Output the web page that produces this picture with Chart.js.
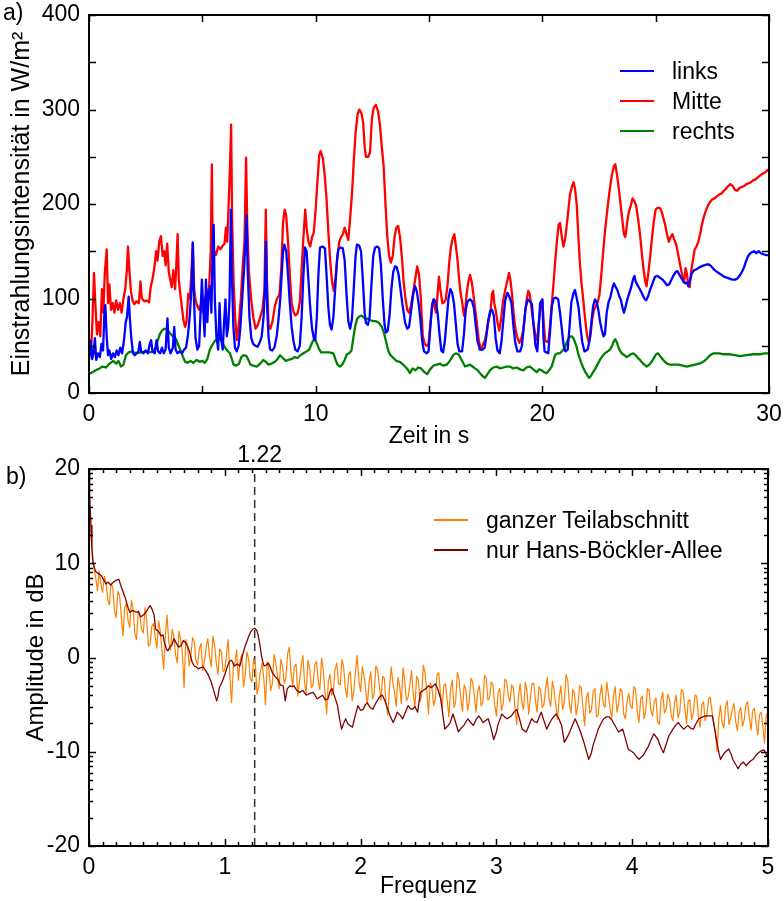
<!DOCTYPE html>
<html>
<head>
<meta charset="utf-8">
<script src="https://cdn.jsdelivr.net/npm/chart.js@4"></script>
<style>
  body { margin: 0; background: #fff; font-family: "Liberation Sans", Arial, sans-serif; }
  #wrap { position: relative; width: 784px; height: 901px; overflow: hidden; }
  canvas { position: absolute; left: 0; }
  .tag { position: absolute; font-size: 23px; line-height: 1; color: #000; }
  .legend { position: absolute; font-size: 23px; color: #000; }
  .legend .row { display: flex; align-items: center; height: 30px; white-space: nowrap; }
  .legend .row span { display: block; width: 34px; height: 1.6px; margin-right: 18px; }
</style>
</head>
<body>
<div id="wrap">
  <canvas id="chartA" width="784" height="450" style="top:0"></canvas>
  <canvas id="chartB" width="784" height="461" style="top:440px"></canvas>
  <div class="tag" style="left:3px;top:1px">a)</div>
  <div class="tag" style="left:6px;top:465px">b)</div>
  <div class="legend" style="left:620px;top:56px">
    <div class="row"><span style="background:#0000ff"></span>links</div>
    <div class="row"><span style="background:#ff0000"></span>Mitte</div>
    <div class="row"><span style="background:#008000"></span>rechts</div>
  </div>
  <div class="legend" style="left:434px;top:505px">
    <div class="row"><span style="background:#ff8000"></span>ganzer Teilabschnitt</div>
    <div class="row"><span style="background:#800000"></span>nur Hans-Böckler-Allee</div>
  </div>
</div>
<script>
// Einstrahlungsintensität [Zeit s, W/m²]
const links = [
  [0.0,35],[0.08,55],[0.14,36],[0.2,42],[0.26,58],[0.32,35],[0.4,42],[0.48,38],[0.55,52],[0.62,45],
  [0.68,85],[0.72,93],[0.78,60],[0.84,40],[0.9,45],[0.98,36],[1.06,42],[1.14,38],[1.22,45],[1.3,40],
  [1.38,48],[1.46,42],[1.54,55],[1.62,75],[1.68,81],[1.75,102],[1.8,80],[1.86,60],[1.94,42],[2.02,40],
  [2.1,42],[2.18,44],[2.24,54],[2.3,44],[2.4,42],[2.5,45],[2.6,42],[2.68,52],[2.74,56],[2.8,44],
  [2.9,42],[2.98,56],[3.05,44],[3.14,42],[3.22,48],[3.3,42],[3.38,46],[3.46,79],[3.52,48],[3.6,42],
  [3.7,48],[3.76,70],[3.82,46],[3.9,42],[4.0,44],[4.1,42],[4.2,46],[4.28,48],[4.36,60],[4.44,80],
  [4.52,110],[4.58,159],[4.63,100],[4.7,58],[4.78,46],[4.86,50],[4.92,85],[4.98,120],[5.04,90],[5.1,60],
  [5.16,120],[5.22,75],[5.28,106],[5.35,113],[5.4,85],[5.46,160],[5.5,178],[5.55,100],[5.62,60],[5.7,46],
  [5.76,95],[5.82,60],[5.9,46],[5.96,75],[6.02,99],[6.08,60],[6.14,70],[6.2,99],[6.26,194],[6.31,120],
  [6.37,70],[6.44,48],[6.52,44],[6.6,50],[6.68,70],[6.76,100],[6.84,130],[6.9,160],[6.95,188],[7.0,130],
  [7.08,80],[7.16,58],[7.24,52],[7.34,50],[7.44,49],[7.54,54],[7.62,60],[7.7,80],[7.76,110],[7.81,160],
  [7.86,90],[7.92,60],[7.99,46],[8.08,45],[8.18,48],[8.28,60],[8.36,78],[8.44,100],[8.5,125],[8.56,150],
  [8.62,157],[8.7,150],[8.78,125],[8.86,95],[8.94,70],[9.02,55],[9.1,46],[9.2,44],[9.3,50],[9.38,80],
  [9.46,125],[9.53,154],[9.6,150],[9.68,120],[9.76,90],[9.84,68],[9.92,58],[9.98,56],[10.05,80],[10.12,125],
  [10.19,154],[10.3,155],[10.41,153],[10.48,125],[10.56,90],[10.63,72],[10.7,67],[10.78,80],[10.86,110],[10.94,140],
  [11.0,152],[11.1,154],[11.2,153],[11.28,140],[11.36,105],[11.44,76],[11.52,68],[11.6,78],[11.68,110],[11.76,145],
  [11.82,157],[11.92,156],[12.0,150],[12.08,120],[12.16,85],[12.22,74],[12.3,72],[12.38,80],[12.46,115],[12.54,145],
  [12.62,154],[12.72,155],[12.8,153],[12.88,135],[12.96,100],[13.04,72],[13.1,64],[13.18,66],[13.26,82],[13.34,110],
  [13.42,128],[13.5,134],[13.58,133],[13.66,125],[13.74,110],[13.84,92],[13.94,75],[14.04,68],[14.12,70],[14.2,85],
  [14.3,104],[14.38,113],[14.46,108],[14.54,95],[14.62,78],[14.7,55],[14.78,44],[14.9,42],[14.98,44],[15.06,70],
  [15.14,94],[15.22,99],[15.3,96],[15.38,85],[15.46,63],[15.54,45],[15.62,43],[15.7,55],[15.78,78],[15.86,100],
  [15.94,110],[16.02,106],[16.1,95],[16.18,74],[16.26,52],[16.34,44],[16.46,44],[16.54,62],[16.62,88],[16.7,97],
  [16.81,99],[16.9,97],[16.98,90],[17.06,72],[17.14,55],[17.24,46],[17.36,46],[17.46,48],[17.54,62],[17.62,77],
  [17.7,87],[17.78,88],[17.86,82],[17.94,58],[18.02,45],[18.12,42],[18.2,55],[18.28,77],[18.36,98],[18.46,106],
  [18.56,101],[18.64,95],[18.72,72],[18.8,54],[18.9,44],[19.02,44],[19.1,50],[19.18,70],[19.26,90],[19.36,99],
  [19.46,97],[19.54,94],[19.62,70],[19.7,50],[19.78,44],[19.84,70],[19.9,95],[20.0,99],[20.05,60],[20.1,44],
  [20.26,42],[20.34,65],[20.42,92],[20.5,100],[20.6,101],[20.7,99],[20.78,85],[20.86,68],[20.94,50],[21.02,44],
  [21.12,46],[21.2,70],[21.28,96],[21.38,106],[21.44,109],[21.52,100],[21.6,90],[21.68,70],[21.76,54],[21.86,44],
  [22.0,46],[22.08,55],[22.16,74],[22.24,92],[22.32,99],[22.4,96],[22.47,88],[22.55,75],[22.62,67],[22.7,60],
  [22.76,62],[22.84,85],[22.92,96],[23.01,102],[23.1,112],[23.16,116],[23.24,112],[23.31,109],[23.4,102],[23.46,99],
  [23.54,90],[23.6,85],[23.68,92],[23.75,99],[23.84,106],[23.92,112],[24.0,120],[24.06,124],[24.12,118],[24.2,114],
  [24.3,110],[24.4,105],[24.5,100],[24.58,98],[24.66,102],[24.75,109],[24.86,116],[24.97,123],[25.08,124],[25.19,122],
  [25.3,120],[25.41,117],[25.5,114],[25.6,115],[25.7,120],[25.78,124],[25.88,128],[25.96,129],[26.05,125],[26.15,121],
  [26.22,118],[26.3,116],[26.38,117],[26.44,113],[26.52,120],[26.6,127],[26.7,130],[26.81,131],[26.92,133],[27.02,134],
  [27.12,135],[27.24,136],[27.35,136],[27.46,134],[27.56,131],[27.66,129],[27.78,127],[27.9,125],[28.02,123],[28.14,122],
  [28.26,121],[28.38,120],[28.5,120],[28.6,121],[28.7,124],[28.8,128],[28.9,133],[28.98,139],[29.06,144],[29.14,147],
  [29.24,149],[29.34,150],[29.44,148],[29.54,150],[29.64,148],[29.74,147],[29.86,146],[30.0,146]
];

const mitte = [
  [0.0,58],[0.08,40],[0.15,75],[0.22,127],[0.28,95],[0.35,62],[0.42,75],[0.5,60],[0.57,110],[0.63,85],
  [0.7,128],[0.78,152],[0.84,95],[0.9,115],[0.97,88],[1.05,95],[1.12,85],[1.2,98],[1.28,88],[1.36,95],
  [1.44,85],[1.52,100],[1.6,110],[1.67,130],[1.72,155],[1.78,130],[1.85,108],[1.92,98],[2.0,94],[2.1,97],
  [2.2,95],[2.27,118],[2.33,100],[2.45,97],[2.55,98],[2.65,96],[2.72,112],[2.8,120],[2.88,132],[2.96,150],
  [3.02,140],[3.1,160],[3.17,166],[3.25,145],[3.32,150],[3.38,135],[3.45,158],[3.52,128],[3.58,120],[3.65,112],
  [3.72,130],[3.8,110],[3.86,140],[3.91,168],[3.96,120],[4.03,105],[4.1,90],[4.17,77],[4.24,70],[4.3,75],
  [4.38,105],[4.45,100],[4.52,128],[4.58,159],[4.64,110],[4.7,98],[4.78,92],[4.86,88],[4.95,95],[5.02,85],
  [5.1,100],[5.2,106],[5.3,112],[5.37,150],[5.42,242],[5.46,140],[5.53,150],[5.6,146],[5.7,155],[5.8,152],
  [5.9,156],[5.98,158],[6.04,175],[6.1,160],[6.16,200],[6.22,240],[6.27,284],[6.31,190],[6.38,116],[6.45,80],
  [6.52,56],[6.6,70],[6.7,100],[6.78,134],[6.86,160],[6.93,249],[6.98,180],[7.05,130],[7.15,100],[7.25,80],
  [7.35,68],[7.45,72],[7.55,80],[7.65,88],[7.74,110],[7.8,194],[7.85,120],[7.92,72],[8.0,68],[8.1,76],
  [8.2,92],[8.3,100],[8.4,104],[8.48,130],[8.56,180],[8.63,194],[8.7,188],[8.78,160],[8.86,125],[8.94,95],
  [9.02,86],[9.1,82],[9.2,84],[9.3,96],[9.38,130],[9.46,165],[9.54,194],[9.6,175],[9.68,160],[9.76,155],
  [9.84,165],[9.92,170],[10.0,195],[10.08,225],[10.16,252],[10.22,256],[10.32,248],[10.4,230],[10.48,205],[10.56,170],
  [10.64,140],[10.72,118],[10.8,108],[10.88,122],[10.96,145],[11.04,160],[11.12,165],[11.2,168],[11.28,175],[11.36,168],
  [11.44,162],[11.52,185],[11.6,210],[11.68,245],[11.76,275],[11.85,295],[11.93,300],[12.02,296],[12.1,285],[12.16,260],
  [12.22,250],[12.32,250],[12.4,255],[12.48,290],[12.56,302],[12.66,305],[12.75,298],[12.83,285],[12.92,260],[13.0,240],
  [13.08,200],[13.16,165],[13.24,145],[13.32,138],[13.4,145],[13.48,165],[13.56,175],[13.64,177],[13.72,165],[13.8,145],
  [13.88,118],[13.96,100],[14.04,88],[14.12,85],[14.2,92],[14.3,106],[14.4,122],[14.48,134],[14.56,125],[14.64,100],
  [14.72,62],[14.8,52],[14.9,50],[14.98,52],[15.05,70],[15.12,88],[15.19,99],[15.26,90],[15.31,85],[15.38,105],
  [15.44,123],[15.5,110],[15.59,95],[15.67,96],[15.74,99],[15.82,115],[15.9,140],[15.97,155],[16.05,164],[16.12,168],
  [16.19,155],[16.26,140],[16.33,120],[16.4,105],[16.47,95],[16.54,82],[16.6,88],[16.66,105],[16.74,118],[16.81,125],
  [16.88,118],[16.96,104],[17.04,88],[17.13,70],[17.2,55],[17.28,46],[17.36,50],[17.47,56],[17.55,66],[17.62,77],
  [17.68,82],[17.72,88],[17.78,105],[17.83,108],[17.88,95],[17.94,88],[18.02,75],[18.1,66],[18.18,78],[18.26,96],
  [18.33,105],[18.4,113],[18.47,120],[18.53,127],[18.6,118],[18.66,105],[18.73,85],[18.8,70],[18.88,60],[18.99,53],
  [19.08,58],[19.16,67],[19.24,85],[19.31,99],[19.38,108],[19.44,105],[19.52,90],[19.6,75],[19.68,63],[19.78,56],
  [19.86,78],[19.93,92],[20.0,99],[20.06,75],[20.12,56],[20.2,54],[20.28,56],[20.35,75],[20.42,95],[20.5,118],
  [20.57,140],[20.64,160],[20.72,178],[20.78,180],[20.86,165],[20.93,155],[21.0,162],[21.07,176],[21.14,192],[21.22,210],
  [21.3,218],[21.38,223],[21.45,215],[21.52,198],[21.58,170],[21.65,140],[21.72,118],[21.8,100],[21.88,80],[21.96,63],
  [22.04,54],[22.12,60],[22.2,78],[22.28,88],[22.36,92],[22.44,96],[22.52,104],[22.6,125],[22.68,148],[22.76,170],
  [22.84,188],[22.92,205],[23.0,220],[23.08,232],[23.16,240],[23.22,242],[23.3,230],[23.38,215],[23.45,200],[23.52,185],
  [23.6,168],[23.66,165],[23.74,180],[23.82,192],[23.9,198],[23.98,206],[24.06,203],[24.14,198],[24.22,185],[24.3,170],
  [24.38,150],[24.46,132],[24.54,118],[24.6,113],[24.68,128],[24.76,145],[24.84,165],[24.92,182],[25.0,194],[25.08,196],
  [25.18,196],[25.26,192],[25.34,185],[25.42,178],[25.5,168],[25.58,160],[25.66,165],[25.74,168],[25.82,162],[25.9,158],
  [25.98,148],[26.06,138],[26.14,128],[26.2,122],[26.26,118],[26.32,132],[26.38,126],[26.44,114],[26.5,112],[26.56,128],
  [26.64,140],[26.72,152],[26.8,155],[26.88,160],[26.96,168],[27.04,178],[27.12,186],[27.2,192],[27.3,198],[27.4,202],
  [27.5,205],[27.6,206],[27.7,208],[27.8,210],[27.9,211],[28.0,214],[28.1,216],[28.2,219],[28.3,221],[28.4,219],
  [28.5,215],[28.6,214],[28.7,217],[28.8,218],[28.9,219],[29.0,221],[29.1,222],[29.2,223],[29.3,225],[29.4,226],
  [29.5,228],[29.6,230],[29.7,232],[29.8,233],[29.9,235],[30.0,237]
];

const rechts = [
  [0.0,20],[0.15,22],[0.3,24],[0.46,26],[0.6,28],[0.75,27],[0.9,31],[1.07,34],[1.2,31],[1.3,34],
  [1.41,28],[1.52,30],[1.63,40],[1.75,43],[1.9,44],[2.07,42],[2.3,43],[2.5,44],[2.7,43],[2.85,44],
  [2.95,48],[3.03,55],[3.12,62],[3.22,66],[3.32,68],[3.45,67],[3.58,63],[3.7,60],[3.84,57],[3.95,50],
  [4.06,44],[4.15,38],[4.24,33],[4.35,32],[4.48,34],[4.6,32],[4.75,35],[4.88,33],[5.0,34],[5.1,32],
  [5.22,36],[5.32,45],[5.42,50],[5.52,54],[5.62,57],[5.72,58],[5.82,56],[5.92,52],[6.0,48],[6.1,45],
  [6.22,42],[6.3,36],[6.38,30],[6.5,29],[6.62,31],[6.72,38],[6.82,40],[6.95,39],[7.05,34],[7.12,30],
  [7.25,29],[7.4,28],[7.55,31],[7.69,35],[7.8,33],[7.92,30],[8.05,31],[8.2,33],[8.32,36],[8.43,40],
  [8.55,37],[8.68,34],[8.8,35],[8.95,36],[9.08,38],[9.2,37],[9.32,40],[9.46,42],[9.6,44],[9.72,46],
  [9.82,52],[9.9,56],[9.98,56],[10.06,52],[10.14,47],[10.24,43],[10.4,43],[10.6,43],[10.78,42],[10.88,35],
  [10.96,30],[11.07,28],[11.17,30],[11.28,35],[11.38,41],[11.48,42],[11.58,45],[11.66,58],[11.74,70],[11.82,78],
  [11.92,81],[12.02,82],[12.12,80],[12.22,78],[12.32,79],[12.42,77],[12.54,76],[12.66,76],[12.8,74],[12.92,70],
  [13.02,63],[13.1,55],[13.2,45],[13.3,40],[13.43,37],[13.56,34],[13.7,33],[13.82,31],[13.94,28],[14.06,25],
  [14.16,21],[14.28,26],[14.4,24],[14.52,27],[14.65,26],[14.8,22],[14.92,20],[15.05,25],[15.2,29],[15.35,30],
  [15.49,31],[15.62,29],[15.78,30],[15.92,34],[16.07,40],[16.18,42],[16.3,41],[16.44,35],[16.59,28],[16.7,29],
  [16.81,30],[16.92,28],[17.03,26],[17.15,24],[17.25,21],[17.36,18],[17.47,16],[17.58,20],[17.69,24],[17.84,27],
  [17.99,28],[18.14,26],[18.28,27],[18.42,28],[18.57,28],[18.72,26],[18.87,27],[19.02,25],[19.16,24],[19.3,27],
  [19.46,28],[19.6,25],[19.75,22],[19.86,25],[19.97,24],[20.08,22],[20.19,21],[20.3,24],[20.41,28],[20.5,35],
  [20.56,40],[20.66,42],[20.78,42],[20.9,45],[21.0,49],[21.12,56],[21.22,60],[21.3,60],[21.37,58],[21.45,53],
  [21.51,49],[21.6,40],[21.7,33],[21.8,27],[21.9,22],[21.98,19],[22.06,16],[22.14,18],[22.24,22],[22.32,25],
  [22.43,30],[22.54,35],[22.65,39],[22.76,42],[22.88,44],[22.99,46],[23.08,50],[23.16,55],[23.22,57],[23.28,54],
  [23.35,49],[23.42,45],[23.5,42],[23.62,40],[23.72,38],[23.79,39],[23.9,41],[24.01,42],[24.12,40],[24.22,37],
  [24.31,35],[24.45,31],[24.6,28],[24.72,30],[24.82,33],[24.92,37],[25.02,41],[25.1,42],[25.2,39],[25.3,36],
  [25.4,33],[25.52,31],[25.63,30],[25.8,30],[26.0,30],[26.2,29],[26.37,28],[26.55,29],[26.74,30],[26.92,31],
  [27.1,33],[27.25,36],[27.4,40],[27.55,42],[27.8,42],[28.0,41],[28.28,41],[28.5,40],[28.72,39],[29.0,40],
  [29.31,41],[29.6,41],[29.8,42],[30.0,42]
];

// Spektrum [Frequenz, dB]
const ganzer = [
  [0.0,18.0],[0.01,14.0],[0.02,11.5],[0.03,10.0],[0.05,8.4],[0.0625,7.1],[0.075,9.2],[0.0875,7.8],[0.1,6.9],[0.1125,8.6],
  [0.125,8.0],[0.1375,6.2],[0.15,5.6],[0.1625,7.9],[0.175,7.4],[0.1875,5.0],[0.2,4.2],[0.2125,7.0],[0.225,6.6],[0.2375,4.5],
  [0.25,2.3],[0.2625,5.2],[0.275,5.8],[0.2875,3.9],[0.3,3.2],[0.3125,6.1],[0.325,5.1],[0.3375,2.6],[0.35,1.9],[0.3625,4.9],
  [0.375,4.4],[0.3875,3.0],[0.4,2.6],[0.4125,5.3],[0.425,4.0],[0.4375,1.2],[0.45,1.4],[0.4625,3.3],[0.475,3.6],[0.4875,2.2],
  [0.5,1.0],[0.5125,3.9],[0.525,2.8],[0.5375,0.7],[0.55,-1.2],[0.5625,2.4],[0.575,4.5],[0.5875,1.6],[0.6,0.8],[0.6125,3.0],
  [0.625,2.2],[0.6375,0.3],[0.65,-0.6],[0.6625,2.8],[0.675,1.9],[0.6875,0.5],[0.7,-3.2],[0.7125,1.9],[0.725,1.2],[0.7375,-0.9],
  [0.75,0.1],[0.7625,2.1],[0.775,1.7],[0.7875,-0.3],[0.8,-0.8],[0.8125,0.9],[0.825,1.5],[0.8375,-1.4],[0.85,-0.4],[0.8625,1.1],
  [0.875,2.0],[0.8875,0.2],[0.9,-1.0],[0.9125,2.3],[0.925,1.3],[0.9375,-0.6],[0.95,-1.8],[0.9625,0.9],[0.975,0.6],[0.9875,-1.5],
  [1.0,-1.3],[1.0125,0.4],[1.025,1.9],[1.0375,-2.0],[1.05,-4.8],[1.0625,-1.1],[1.075,-0.5],[1.0875,0.8],[1.1,-2.4],[1.1125,-0.3],
  [1.125,0.3],[1.1375,-3.1],[1.15,-1.9],[1.1625,0.6],[1.175,-0.2],[1.1875,-2.2],[1.2,-2.6],[1.2125,-0.1],[1.225,-0.8],[1.2375,-3.9],
  [1.25,-3.0],[1.2625,-1.4],[1.275,-0.6],[1.2875,-2.3],[1.3,-5.0],[1.3125,-0.4],[1.325,-1.2],[1.3375,-3.5],[1.35,-2.8],[1.3625,0.3],
  [1.375,-0.5],[1.3875,-1.9],[1.4,-3.3],[1.4125,-0.2],[1.425,-0.9],[1.4375,-2.7],[1.45,-2.2],[1.4625,0.4],[1.475,1.1],[1.4875,-1.6],
  [1.5,-3.0],[1.5125,-0.9],[1.525,-0.7],[1.5375,-4.1],[1.55,-2.5],[1.5625,-1.0],[1.575,0.2],[1.5875,-2.6],[1.6,-3.8],[1.6125,-0.3],
  [1.625,-1.1],[1.6375,-3.2],[1.65,-2.9],[1.6625,-0.8],[1.675,-0.4],[1.6875,-2.4],[1.7,-3.4],[1.7125,-0.1],[1.725,-1.3],[1.7375,-3.6],
  [1.75,-6.0],[1.7625,-2.5],[1.775,-1.8],[1.7875,-4.0],[1.8,-3.5],[1.8125,-1.2],[1.825,-0.6],[1.8375,-2.8],[1.85,-2.9],[1.8625,-0.2],
  [1.875,-1.0],[1.8875,-3.3],[1.9,-4.2],[1.9125,-1.8],[1.925,-1.5],[1.9375,-4.6],[1.95,-3.6],[1.9625,-1.4],[1.975,0.2],[1.9875,-2.5],
  [2.0,-3.6],[2.0125,-1.0],[2.025,-1.9],[2.0375,-3.4],[2.05,-5.0],[2.0625,-2.7],[2.075,-1.5],[2.0875,-4.4],[2.1,-3.8],[2.1125,-0.9],
  [2.125,-1.3],[2.1375,-3.0],[2.15,-4.5],[2.1625,-2.0],[2.175,-2.2],[2.1875,-4.9],[2.2,-6.1],[2.2125,-3.3],[2.225,-1.0],[2.2375,-2.6],
  [2.25,-3.7],[2.2625,-5.2],[2.275,-2.1],[2.2875,-3.0],[2.3,-4.9],[2.3125,-1.1],[2.325,-2.5],[2.3375,-4.6],[2.35,-4.2],[2.3625,-2.9],
  [2.375,-1.4],[2.3875,-3.8],[2.4,-5.3],[2.4125,-2.0],[2.425,-2.4],[2.4375,-4.7],[2.45,-3.9],[2.4625,-0.8],[2.475,-1.7],[2.4875,-3.5],
  [2.5,-6.0],[2.5125,-2.7],[2.525,-3.1],[2.5375,-5.1],[2.55,-4.4],[2.5625,-1.9],[2.575,-1.6],[2.5875,-3.7],[2.6,-5.4],[2.6125,-3.0],
  [2.625,-2.8],[2.6375,-4.5],[2.65,-6.3],[2.6625,-3.4],[2.675,-2.4],[2.6875,-5.3],[2.7,-4.7],[2.7125,-1.6],[2.725,-2.3],[2.7375,-4.2],
  [2.75,-5.7],[2.7625,-2.9],[2.775,-3.4],[2.7875,-5.6],[2.8,-4.6],[2.8125,-2.2],[2.825,-2.6],[2.8375,-4.0],[2.85,-5.8],[2.8625,-3.6],
  [2.875,-3.0],[2.8875,-5.1],[2.9,-4.8],[2.9125,-1.9],[2.925,-2.2],[2.9375,-4.5],[2.95,-4.3],[2.9625,-2.6],[2.975,-2.9],[2.9875,-5.0],
  [3.0,-6.2],[3.0125,-3.7],[3.025,-3.3],[3.0375,-5.6],[3.05,-4.9],[3.0625,-2.3],[3.075,-2.5],[3.0875,-4.1],[3.1,-4.7],[3.1125,-2.9],
  [3.125,-3.2],[3.1375,-5.4],[3.15,-7.1],[3.1625,-4.0],[3.175,-2.8],[3.1875,-4.8],[3.2,-5.5],[3.2125,-2.6],[3.225,-3.6],[3.2375,-6.0],
  [3.25,-4.4],[3.2625,-2.8],[3.275,-2.7],[3.2875,-4.6],[3.3,-5.8],[3.3125,-3.1],[3.325,-3.4],[3.3375,-5.3],[3.35,-5.0],[3.3625,-3.3],
  [3.375,-2.1],[3.3875,-4.4],[3.4,-5.2],[3.4125,-2.5],[3.425,-3.5],[3.4375,-5.0],[3.45,-6.6],[3.4625,-4.2],[3.475,-3.0],[3.4875,-5.5],
  [3.5,-4.8],[3.5125,-1.8],[3.525,-2.4],[3.5375,-4.9],[3.55,-5.9],[3.5625,-3.4],[3.575,-3.8],[3.5875,-6.1],[3.6,-5.1],[3.6125,-3.0],
  [3.625,-3.2],[3.6375,-5.3],[3.65,-7.2],[3.6625,-4.3],[3.675,-3.7],[3.6875,-5.9],[3.7,-5.6],[3.7125,-3.6],[3.725,-3.3],[3.7375,-6.3],
  [3.75,-6.1],[3.7625,-4.0],[3.775,-2.9],[3.7875,-5.0],[3.8,-5.3],[3.8125,-2.6],[3.825,-3.9],[3.8375,-5.5],[3.85,-6.4],[3.8625,-4.1],
  [3.875,-3.1],[3.8875,-5.8],[3.9,-4.9],[3.9125,-3.3],[3.925,-3.6],[3.9375,-6.0],[3.95,-6.5],[3.9625,-4.6],[3.975,-3.8],[3.9875,-5.2],
  [4.0,-5.4],[4.0125,-3.1],[4.025,-3.4],[4.0375,-5.8],[4.05,-6.9],[4.0625,-4.4],[4.075,-4.1],[4.0875,-6.5],[4.1,-5.7],[4.1125,-3.3],
  [4.125,-3.5],[4.1375,-5.6],[4.15,-6.2],[4.1625,-4.7],[4.175,-4.3],[4.1875,-6.8],[4.2,-7.1],[4.2125,-4.5],[4.225,-3.7],[4.2375,-5.9],
  [4.25,-5.5],[4.2625,-3.9],[4.275,-4.4],[4.2875,-6.2],[4.3,-6.7],[4.3125,-4.8],[4.325,-4.0],[4.3375,-6.4],[4.35,-5.8],[4.3625,-3.4],
  [4.375,-3.6],[4.3875,-5.3],[4.4,-7.0],[4.4125,-4.6],[4.425,-4.5],[4.4375,-6.6],[4.45,-5.9],[4.4625,-4.0],[4.475,-4.1],[4.4875,-6.3],
  [4.5,-7.4],[4.5125,-5.0],[4.525,-4.7],[4.5375,-6.7],[4.55,-6.1],[4.5625,-4.4],[4.575,-4.2],[4.5875,-5.7],[4.6,-6.8],[4.6125,-7.9],
  [4.625,-10.0],[4.6375,-6.6],[4.65,-5.1],[4.6625,-6.9],[4.675,-7.5],[4.6875,-5.2],[4.7,-4.6],[4.7125,-7.1],[4.725,-6.4],[4.7375,-5.5],
  [4.75,-4.9],[4.7625,-6.8],[4.775,-7.8],[4.7875,-5.7],[4.8,-5.3],[4.8125,-7.3],[4.825,-6.6],[4.8375,-5.0],[4.85,-4.7],[4.8625,-6.4],
  [4.875,-7.7],[4.8875,-5.6],[4.9,-5.4],[4.9125,-7.0],[4.925,-8.2],[4.9375,-6.1],[4.95,-5.8],[4.9625,-7.4],[4.975,-9.1],[4.9875,-6.0],
  [5.0,-6.6]
];

const hansBoeckler = [
  [0,19.5],[0.005,17],[0.01,15.5],[0.015,14],[0.022,11.5],[0.03,10.1],[0.04,9.5],[0.05,9.1],[0.07,8.9],[0.09,8.7],
  [0.11,8.2],[0.125,7.8],[0.14,8.0],[0.16,7.7],[0.18,8.0],[0.2,8.2],[0.22,8.3],[0.235,7.6],[0.25,7.0],[0.27,6.2],
  [0.285,5.4],[0.3,4.8],[0.32,5.0],[0.35,4.8],[0.365,4.9],[0.38,4.3],[0.4,4.5],[0.42,4.8],[0.435,5.2],[0.45,5.5],
  [0.465,5.1],[0.48,4.5],[0.49,3.0],[0.51,2.8],[0.53,2.3],[0.545,2.4],[0.555,1.6],[0.57,0.9],[0.58,0.7],[0.6,1.2],
  [0.61,1.3],[0.625,2.0],[0.64,1.6],[0.66,1.1],[0.68,1.3],[0.695,1.8],[0.71,1.6],[0.725,1.2],[0.74,0.6],[0.76,-0.5],
  [0.775,-0.9],[0.79,-1.0],[0.805,-1.2],[0.82,-1.1],[0.84,-1.0],[0.86,-1.4],[0.88,-1.9],[0.9,-2.6],[0.92,-3.6],[0.94,-4.6],
  [0.95,-4.1],[0.96,-3.2],[0.98,-2.6],[1.0,-1.8],[1.02,-0.9],[1.035,-0.4],[1.05,-0.3],[1.07,-0.9],[1.09,-0.7],[1.11,-0.9],
  [1.12,-0.4],[1.13,0.2],[1.145,1.0],[1.16,1.6],[1.175,2.2],[1.19,2.7],[1.205,3.0],[1.22,3.1],[1.235,2.9],[1.245,2.4],
  [1.26,1.2],[1.27,0.2],[1.28,-0.5],[1.29,-0.9],[1.305,-0.8],[1.32,-0.6],[1.335,-1.0],[1.35,-1.6],[1.37,-2.0],[1.39,-2.3],
  [1.41,-2.9],[1.43,-3.0],[1.445,-4.6],[1.46,-3.3],[1.48,-3.0],[1.5,-3.1],[1.51,-3.0],[1.53,-3.5],[1.55,-3.7],[1.575,-3.5],
  [1.6,-4.0],[1.625,-3.8],[1.65,-3.7],[1.665,-4.0],[1.68,-4.4],[1.7,-4.2],[1.72,-4.0],[1.74,-4.5],[1.76,-4.4],[1.775,-3.6],
  [1.79,-3.3],[1.81,-4.2],[1.83,-5.1],[1.845,-6.5],[1.86,-7.6],[1.875,-7.0],[1.89,-6.5],[1.905,-7.0],[1.92,-7.2],[1.94,-7.4],
  [1.96,-6.2],[1.98,-5.1],[2.0,-5.6],[2.02,-5.5],[2.035,-5.0],[2.05,-4.8],[2.07,-5.3],[2.09,-5.5],[2.11,-4.9],[2.13,-4.4],
  [2.145,-4.1],[2.16,-4.0],[2.18,-4.6],[2.2,-5.5],[2.22,-6.3],[2.24,-6.9],[2.255,-6.4],[2.27,-5.8],[2.29,-6.1],[2.31,-6.5],
  [2.33,-5.8],[2.35,-5.1],[2.365,-5.4],[2.38,-5.5],[2.4,-5.2],[2.42,-5.8],[2.44,-3.7],[2.46,-3.5],[2.48,-3.3],[2.5,-3.0],
  [2.52,-3.2],[2.55,-2.8],[2.57,-3.4],[2.59,-4.4],[2.605,-6.0],[2.62,-7.6],[2.64,-7.3],[2.66,-6.9],[2.68,-6.0],[2.7,-6.9],
  [2.72,-7.9],[2.74,-7.5],[2.76,-7.2],[2.79,-6.5],[2.81,-6.9],[2.83,-7.2],[2.85,-6.6],[2.87,-6.2],[2.89,-6.6],[2.9,-6.9],
  [2.92,-6.7],[2.94,-6.5],[2.96,-7.5],[2.98,-8.7],[3.0,-7.9],[3.01,-7.2],[3.04,-6.0],[3.06,-6.3],[3.08,-6.5],[3.11,-6.2],
  [3.13,-5.8],[3.15,-5.5],[3.17,-6.5],[3.19,-7.6],[3.22,-7.9],[3.24,-7.2],[3.26,-6.5],[3.28,-6.8],[3.3,-6.9],[3.315,-6.3],
  [3.33,-5.8],[3.35,-6.7],[3.37,-7.6],[3.39,-7.0],[3.41,-6.5],[3.44,-6.0],[3.46,-6.5],[3.48,-7.2],[3.5,-9.0],[3.52,-8.5],
  [3.54,-7.9],[3.56,-7.2],[3.58,-6.5],[3.6,-7.2],[3.62,-7.9],[3.64,-8.8],[3.66,-9.8],[3.68,-10.8],[3.7,-10.1],[3.71,-9.4],
  [3.73,-8.5],[3.75,-7.6],[3.77,-7.0],[3.79,-6.5],[3.81,-6.3],[3.83,-6.3],[3.85,-6.6],[3.86,-6.9],[3.88,-7.4],[3.9,-7.9],
  [3.93,-7.6],[3.95,-8.6],[3.97,-9.7],[4.01,-10.1],[4.03,-10.5],[4.05,-10.8],[4.08,-10.4],[4.1,-9.9],[4.12,-9.4],[4.14,-8.7],
  [4.16,-8.1],[4.19,-8.7],[4.21,-9.5],[4.23,-10.1],[4.25,-9.2],[4.27,-8.3],[4.3,-7.6],[4.32,-7.2],[4.34,-6.9],[4.36,-7.3],
  [4.38,-7.6],[4.41,-7.2],[4.43,-7.5],[4.45,-7.6],[4.47,-7.0],[4.49,-6.5],[4.52,-6.3],[4.54,-6.2],[4.56,-6.2],[4.59,-6.2],
  [4.6,-7.0],[4.62,-8.7],[4.64,-10.2],[4.65,-10.8],[4.68,-10.1],[4.71,-9.7],[4.73,-10.3],[4.74,-10.8],[4.76,-11.3],[4.78,-11.8],
  [4.8,-11.3],[4.82,-11.1],[4.84,-11.5],[4.85,-11.3],[4.87,-11.0],[4.89,-10.8],[4.91,-10.4],[4.93,-10.1],[4.95,-9.9],[4.97,-9.8],
  [4.99,-10.4],[5.0,-10.2]
];

// markierte Frequenz
const peakFreq = 1.22;

// Achsen
const timeMax = 30, irrMax = 400;
const freqMax = 5, dbMin = -20, dbMax = 20;

const FONT = '"Liberation Sans", Arial, sans-serif';
Chart.defaults.font.family = FONT;
Chart.defaults.font.size = 23;
Chart.defaults.color = '#000';

const xy = arr => arr.map(([x, y]) => ({ x, y }));
const range = (from, to, step) => {
  const out = [];
  for (let v = from; v <= to + 1e-9; v += step) out.push(+v.toFixed(4));
  return out;
};
// kleine Striche wie bei logarithmischer Teilung je Dekade
const logMinor = (from, to) => {
  const out = [];
  for (let d = from; d < to; d += 10)
    for (let k = 2; k <= 9; k++) out.push(d + 10 * Math.log10(k));
  return out;
};

// feste Achsenbreite, ohne Zusatzabstand für überstehende Beschriftungen
const fixWidth = w => s => { s.width = w; s.paddingTop = 0; s.paddingBottom = 0; };
const fixHeight = h => s => { s.height = h; s.paddingLeft = 0; s.paddingRight = 0; };

// Rahmen und innenliegende Striche auf allen vier Seiten
const frameTicks = {
  id: 'frameTicks',
  afterDatasetsDraw(chart, args, opts) {
    const { ctx, chartArea: a, scales: { x, y } } = chart;
    ctx.save();
    ctx.strokeStyle = '#000';
    ctx.lineWidth = 1.5;
    ctx.beginPath();
    const tickX = (vals, len) => vals.forEach(v => {
      const px = Math.round(x.getPixelForValue(v)) + 0.5;
      ctx.moveTo(px, a.bottom); ctx.lineTo(px, a.bottom - len);
      ctx.moveTo(px, a.top); ctx.lineTo(px, a.top + len);
    });
    const tickY = (vals, len) => vals.forEach(v => {
      const py = Math.round(y.getPixelForValue(v)) + 0.5;
      ctx.moveTo(a.left, py); ctx.lineTo(a.left + len, py);
      ctx.moveTo(a.right, py); ctx.lineTo(a.right - len, py);
    });
    tickX(opts.xMajor, 7);
    tickX(opts.xMinor || [], 4);
    tickY(opts.yMajor, 7);
    tickY(opts.yMinor || [], 4);
    ctx.stroke();
    ctx.lineWidth = 2;
    ctx.strokeRect(a.left, a.top, a.right - a.left, a.bottom - a.top);
    if (opts.mark != null) {
      ctx.font = '23px ' + FONT;
      ctx.fillStyle = '#000';
      ctx.textAlign = 'center';
      ctx.textBaseline = 'alphabetic';
      ctx.fillText(opts.mark.toFixed(2), x.getPixelForValue(opts.mark) + 5, a.top - 7);
    }
    ctx.restore();
  }
};

const line = (data, color, width) => ({
  data: xy(data), borderColor: color, borderWidth: width,
  pointRadius: 0, tension: 0, borderJoinStyle: 'round', fill: false
});

new Chart(document.getElementById('chartA'), {
  type: 'line',
  data: {
    datasets: [
      { label: 'links', ...line(links, '#0000ff', 2.3) },
      { label: 'Mitte', ...line(mitte, '#ff0000', 2.3) },
      { label: 'rechts', ...line(rechts, '#008000', 2.3) }
    ]
  },
  options: {
    responsive: false, animation: false, devicePixelRatio: 1,
    parsing: false, normalized: true,
    layout: { padding: { left: 0, right: 15, top: 15, bottom: 0 } },
    plugins: {
      legend: { display: false }, tooltip: { enabled: false },
      frameTicks: { xMajor: range(0, timeMax, 5), yMajor: range(0, irrMax, 50) }
    },
    scales: {
      x: {
        type: 'linear', min: 0, max: timeMax,
        ticks: { stepSize: 10, padding: 8, maxRotation: 0 },
        grid: { display: false, drawTicks: false }, border: { display: false },
        title: { display: true, text: 'Zeit in s', padding: { top: 0, bottom: 0 } },
        afterFit: fixHeight(57)
      },
      y: {
        type: 'linear', min: 0, max: irrMax,
        ticks: { stepSize: 100, padding: 9 },
        grid: { display: false, drawTicks: false }, border: { display: false },
        title: {
          display: true, text: 'Einstrahlungsintensität in W/m²',
          font: { size: 25 }, padding: { top: 7, bottom: 0 }
        },
        afterFit: fixWidth(89)
      }
    }
  },
  plugins: [frameTicks]
});

new Chart(document.getElementById('chartB'), {
  type: 'line',
  data: {
    datasets: [
      { label: 'nur Hans-Böckler-Allee', ...line(hansBoeckler, '#800000', 1.3) },
      { label: 'ganzer Teilabschnitt', ...line(ganzer, '#ff8000', 1.2) },
      {
        label: 'peak', data: [{ x: peakFreq, y: dbMin }, { x: peakFreq, y: dbMax }],
        borderColor: '#333', borderWidth: 1.5, borderDash: [8, 5], pointRadius: 0
      }
    ]
  },
  options: {
    responsive: false, animation: false, devicePixelRatio: 1,
    parsing: false, normalized: true,
    layout: { padding: { left: 0, right: 16, top: 29, bottom: 0 } },
    plugins: {
      legend: { display: false }, tooltip: { enabled: false },
      frameTicks: {
        xMajor: range(0, freqMax, 1), xMinor: range(0, freqMax, 0.1),
        yMajor: range(dbMin, dbMax, 10), yMinor: logMinor(dbMin, dbMax),
        mark: peakFreq
      }
    },
    scales: {
      x: {
        type: 'linear', min: 0, max: freqMax,
        ticks: { stepSize: 1, padding: 8, maxRotation: 0 },
        grid: { display: false, drawTicks: false }, border: { display: false },
        title: { display: true, text: 'Frequenz', padding: { top: 0, bottom: 1 } },
        afterFit: fixHeight(55)
      },
      y: {
        type: 'linear', min: dbMin, max: dbMax,
        ticks: { stepSize: 10, padding: 9 },
        grid: { display: false, drawTicks: false }, border: { display: false },
        title: {
          display: true, text: 'Amplitude in dB',
          font: { size: 24 }, padding: { top: 22, bottom: 0 }
        },
        afterFit: fixWidth(89)
      }
    }
  },
  plugins: [frameTicks]
});
</script>
</body>
</html>
